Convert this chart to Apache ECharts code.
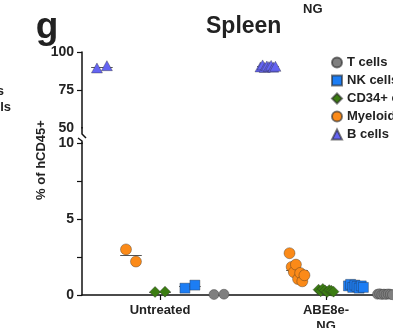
<!DOCTYPE html>
<html>
<head>
<meta charset="utf-8">
<script src="https://cdn.jsdelivr.net/npm/echarts@6/dist/echarts.min.js"></script>
<style>
  html, body { margin: 0; padding: 0; background: #fff; }
  #chart { width: 393px; height: 328px; }
</style>
</head>
<body>
<div id="chart"></div>
<script>
  // groups on the x axis
  var groups = ['Untreated', 'ABE8e-\nNG'];
  var cellTypes = ['T cells', 'NK cells', 'CD34+ cells', 'Myeloid cells', 'B cells'];

  // % of hCD45+, one list per group (Untreated, ABE8e-NG)
  var tCells = [[0.03, 0.05], [0.05, 0.08, 0.03, 0.06, 0.04, 0.07, 0.05, 0.02]];
  var nkCells = [[0.45, 0.65], [0.6, 0.7, 0.5, 0.65, 0.55, 0.45, 0.6, 0.5]];
  var cd34Cells = [[0.2, 0.22], [0.35, 0.25, 0.4, 0.3, 0.2, 0.32, 0.28, 0.22]];
  var myeloidCells = [[3.0, 2.2], [2.75, 1.85, 1.5, 2.0, 1.05, 1.45, 0.9, 1.3]];
  var bCells = [[89.5, 91], [90.2, 91.5, 89.8, 90.8, 90.4, 91.2, 90, 90.6]];

  var upperTicks = [50, 75, 100];
  var lowerTicks = [0, 5, 10];

  var FONT = 'Liberation Sans, Arial, sans-serif';
  var chart = echarts.init(document.getElementById('chart'));

  // x position of a dot: group centre + cell type offset + small spread
  function dots(values, offset) {
    var out = [];
    values.forEach(function (list, g) {
      var n = list.length;
      var spread = n > 2 ? 0.09 : 0.06;
      list.forEach(function (v, i) {
        var j = n > 1 ? (i / (n - 1) - 0.5) * spread : 0;
        out.push([g + 1 + offset + j, v]);
      });
    });
    return out;
  }

  // mean bar for every group
  function means(values, offset) {
    return values.map(function (list, g) {
      var m = list.reduce(function (a, b) { return a + b; }, 0) / list.length;
      var x = g + 1 + offset;
      return [{ coord: [x - 0.065, m] }, { coord: [x + 0.065, m] }];
    });
  }

  function makeSeries(name, values, offset, symbol, size, color, axis) {
    return {
      name: name,
      type: 'scatter',
      xAxisIndex: axis,
      yAxisIndex: axis,
      symbol: symbol,
      symbolSize: size,
      itemStyle: { color: color, borderColor: 'rgba(40,40,40,0.6)', borderWidth: 0.6, opacity: 1 },
      data: dots(values, offset),
      markLine: {
        silent: true,
        symbol: 'none',
        label: { show: false },
        lineStyle: { color: '#555', width: 1, type: 'solid' },
        z: 1,
        data: means(values, offset)
      },
      z: 3
    };
  }

  var axisColor = { color: '#111', width: 1.5 };

  var option = {
    animation: false,
    backgroundColor: '#fff',
    grid: [
      { left: 82, width: 341, top: 52, height: 76, outerBoundsMode: 'none', containLabel: false },
      { left: 82, width: 341, top: 143, height: 152, outerBoundsMode: 'none', containLabel: false }
    ],
    xAxis: [
      { gridIndex: 0, type: 'value', min: 0.53, max: 2.584, show: false },
      {
        gridIndex: 1, type: 'value', min: 0.53, max: 2.584,
        axisLine: { show: true, onZero: false, lineStyle: axisColor },
        axisTick: { show: true, length: 5, customValues: [1, 2], lineStyle: { color: '#111', width: 1.2 } },
        axisLabel: {
          customValues: [1, 2], margin: 7, fontSize: 13, lineHeight: 16,
          color: '#222', fontWeight: 'bold', fontFamily: FONT,
          formatter: function (v) { return groups[Math.round(v) - 1]; }
        },
        splitLine: { show: false }
      }
    ],
    yAxis: [
      {
        gridIndex: 0, type: 'value', min: 50, max: 100, interval: 25,
        axisLine: { show: true, onZero: false, lineStyle: axisColor },
        axisTick: { show: true, length: 5, customValues: [75, 100], lineStyle: { color: '#111', width: 1.2 } },
        axisLabel: { customValues: upperTicks, margin: 8, fontSize: 14, color: '#222', fontWeight: 'bold', fontFamily: FONT },
        splitLine: { show: false }
      },
      {
        gridIndex: 1, type: 'value', min: 0, max: 10, interval: 2.5,
        axisLine: { show: true, onZero: false, lineStyle: axisColor },
        axisTick: { show: true, length: 5, lineStyle: { color: '#111', width: 1.2 } },
        axisLabel: {
          margin: 8, fontSize: 14, color: '#222', fontWeight: 'bold', fontFamily: FONT,
          formatter: function (v) { return lowerTicks.indexOf(v) >= 0 ? String(v) : ''; }
        },
        splitLine: { show: false }
      }
    ],
    legend: {
      orient: 'vertical',
      left: 331,
      top: 56,
      padding: 0,
      itemWidth: 10,
      itemHeight: 10,
      itemGap: 5,
      data: cellTypes,
      textStyle: { color: '#222', fontSize: 13, fontWeight: 'bold', fontFamily: FONT }
    },
    graphic: [
      { type: 'text', x: 47, y: 28, style: { text: 'g', font: 'bold 37px ' + FONT, fill: '#222', textAlign: 'center', textVerticalAlign: 'middle' } },
      { type: 'text', x: 206, y: 27, style: { text: 'Spleen', font: 'bold 23px ' + FONT, fill: '#222', textVerticalAlign: 'middle' } },
      { type: 'text', x: 303, y: 9, style: { text: 'NG', font: 'bold 13px ' + FONT, fill: '#222', textVerticalAlign: 'middle' } },
      { type: 'text', x: 41, y: 160, rotation: Math.PI / 2, style: { text: '% of hCD45+', font: 'bold 13px ' + FONT, fill: '#222', textAlign: 'center', textVerticalAlign: 'middle' } },
      { type: 'text', x: 4, y: 91, style: { text: 'cells', font: 'bold 13px ' + FONT, fill: '#222', textAlign: 'right', textVerticalAlign: 'middle' } },
      { type: 'text', x: 11, y: 107, style: { text: 'cells', font: 'bold 13px ' + FONT, fill: '#222', textAlign: 'right', textVerticalAlign: 'middle' } },
      // axis break marks
      { type: 'polyline', shape: { points: [[82, 127], [82, 134], [86, 138]] }, style: { stroke: '#111', lineWidth: 1.5, fill: null } },
      { type: 'polyline', shape: { points: [[78, 138], [82, 141], [82, 144]] }, style: { stroke: '#111', lineWidth: 1.5, fill: null } }
    ],
    series: [
      makeSeries('T cells', tCells, 0.355, 'circle', 10, '#7f7f7f', 1),
      makeSeries('NK cells', nkCells, 0.18, 'rect', 10, '#1c7df4', 1),
      makeSeries('CD34+ cells', cd34Cells, 0, 'diamond', 11, '#3b7c12', 1),
      makeSeries('Myeloid cells', myeloidCells, -0.175, 'circle', 11, '#fb8a18', 1),
      makeSeries('B cells', bCells, -0.35, 'triangle', [11, 10], '#6464f2', 0)
    ]
  };

  chart.setOption(option);
</script>
</body>
</html>
